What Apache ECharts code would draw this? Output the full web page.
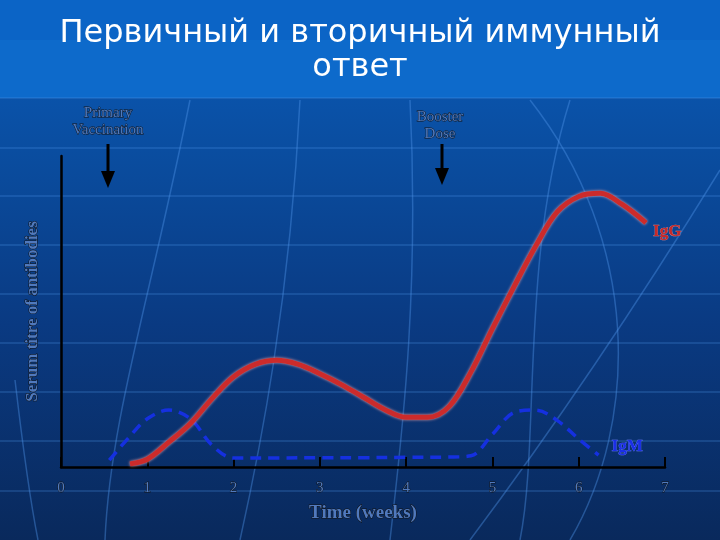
<!DOCTYPE html>
<html><head><meta charset="utf-8">
<script src="https://cdn.jsdelivr.net/npm/echarts@6/dist/echarts.min.js"></script>
<style>html,body{margin:0;padding:0;background:#0a3c88}#c{width:720px;height:540px}</style>
</head><body><div id="c"></div>
<script>
const titleText = 'Первичный и вторичный иммунный\nответ';
const xTicks = [0,1,2,3,4,5,6,7];
const xName = 'Time (weeks)';
const yName = 'Serum titre of antibodies';
const igGWeeks = [0.8,1.0,1.25,1.5,1.75,2.0,2.25,2.5,2.75,3.0,3.25,3.5,3.75,4.0,4.25,4.5,4.75,5.0,5.25,5.5,5.75,6.0,6.25,6.5,6.78];
const igGTitre = [1,2.5,8,14,22,29,33,34.3,33,30,26.5,22.5,18.5,16,16,19.5,30.5,44.5,58,71,82,87,88,84.5,78.5];
const igMWeeks = [0.56,0.79,1.0,1.25,1.5,1.75,2.0,2.5,3.0,3.5,4.0,4.5,4.75,5.0,5.25,5.5,5.75,6.0,6.23];
const igMTitre = [2.2,9.6,15.5,18.3,15.5,7,2.9,2.9,3,3,3.1,3.2,3.6,10.5,17.5,18.3,15,9,3.8];
const seriesNames = ['IgG','IgM'];
const events = ['Primary\nVaccination','Booster\nDose'];

const chart = echarts.init(document.getElementById('c'), null, {renderer:'canvas'});
const hollowFill = '#5079bd', hollowStroke = '#141414';
const hLines = [];
[98,148,196,245,294,343,392,441,491].forEach(y=>hLines.push({type:'line',silent:true,z:-9,shape:{x1:0,y1:y,x2:720,y2:y},style:{stroke:'rgba(80,150,235,0.45)',lineWidth:1}}));
const arcs = [
 {x1:15,y1:380,cpx1:22,cpy1:440,cpx2:30,cpy2:500,x2:38,y2:540},
 {x1:190,y1:100,cpx1:150,cpy1:300,cpx2:110,cpy2:420,x2:105,y2:540},
 {x1:300,y1:100,cpx1:290,cpy1:300,cpx2:260,cpy2:450,x2:240,y2:540},
 {x1:530,y1:100,cpx1:640,cpy1:240,cpx2:640,cpy2:420,x2:570,y2:540},
 {x1:410,y1:100,cpx1:420,cpy1:300,cpx2:400,cpy2:450,x2:390,y2:540},
 {x1:720,y1:170,cpx1:640,cpy1:300,cpx2:560,cpy2:420,x2:470,y2:540},
 {x1:570,y1:100,cpx1:520,cpy1:260,cpx2:540,cpy2:440,x2:520,y2:540}
].map(s=>({type:'bezierCurve',silent:true,z:-9,shape:s,style:{stroke:'rgba(80,150,235,0.4)',lineWidth:1.5,fill:null}}));

function arrow(x, y1, y2){
  return [
    {type:'line',z:10,shape:{x1:x,y1:y1,x2:x,y2:y2-12},style:{stroke:'#000',lineWidth:3}},
    {type:'polygon',z:10,shape:{points:[[x-7,y2-17],[x+7,y2-17],[x,y2]]},style:{fill:'#000'}}
  ];
}
function hollowText(x,y,text){
  return {type:'text',z:20,x:x,y:y,style:{text:text,fill:hollowFill,stroke:hollowStroke,lineWidth:0.9,font:'15px "Liberation Serif"',textAlign:'center',lineHeight:17}};
}

chart.setOption({
  animation:false,
  graphic:[
    {type:'rect',silent:true,z:-10,shape:{x:0,y:0,width:720,height:540},
     style:{fill:new echarts.graphic.LinearGradient(0,0,0,1,[{offset:0,color:'#0a5cba'},{offset:0.3,color:'#0a4c9e'},{offset:0.6,color:'#0a3a82'},{offset:1,color:'#09295c'}])}},
    {type:'rect',silent:true,z:-10,shape:{x:0,y:0,width:720,height:40},style:{fill:'#0b64c6'}},
    {type:'rect',silent:true,z:-10,shape:{x:0,y:40,width:720,height:58},style:{fill:'#0d6acb'}},
    ...hLines, ...arcs,
    {type:'text',z:20,left:'center',top:17,style:{text:titleText,font:'32px "DejaVu Sans"',fill:'#ffffff',textAlign:'center',lineHeight:34,textShadowColor:'#0a0a0a',textShadowOffsetX:2,textShadowOffsetY:2,textShadowBlur:0}},
    hollowText(108,105,events[0]),
    hollowText(440,109,events[1]),
    ...arrow(108,144,188), ...arrow(442,144,185)
  ],
  grid:{left:61,right:55,top:156,bottom:73},
  xAxis:{type:'value',min:0,max:7,interval:1,
    name:xName,nameLocation:'middle',nameGap:37,
    nameTextStyle:{fontSize:19,fontFamily:'Liberation Serif',fontWeight:'bold',color:hollowFill,textBorderColor:hollowStroke,textBorderWidth:1},
    axisLine:{show:true,lineStyle:{color:'#000',width:2.5}},
    axisTick:{show:true,inside:true,length:10,lineStyle:{color:'#000',width:2}},
    axisLabel:{margin:14,fontSize:15,fontFamily:'Liberation Serif',color:hollowFill,textBorderColor:hollowStroke,textBorderWidth:0.9,formatter:v=>xTicks.indexOf(v)>=0?String(v):''},
    splitLine:{show:false}},
  yAxis:{type:'value',min:0,max:100,
    name:yName,nameLocation:'middle',nameGap:20,nameRotate:90,
    nameTextStyle:{fontSize:17,fontFamily:'Liberation Serif',fontWeight:'bold',color:hollowFill,textBorderColor:hollowStroke,textBorderWidth:1},
    axisLine:{show:true,lineStyle:{color:'#000',width:2.5}},
    axisTick:{show:false},axisLabel:{show:false},splitLine:{show:false}},
  series:[
    {name:seriesNames[0],type:'line',smooth:0.35,symbol:'none',clip:false,z:5,
     data:igGWeeks.map((w,i)=>[w,igGTitre[i]]),
     lineStyle:{color:'#cc2b2b',width:5,shadowColor:'rgba(255,170,170,0.9)',shadowBlur:3},
     endLabel:{show:true,formatter:'{a}',distance:3,color:'#c62a2a',fontFamily:'Liberation Serif',fontWeight:'bold',fontSize:17,textBorderColor:'#e88888',textBorderWidth:0.6,offset:[4,9]}},
    {name:seriesNames[1],type:'line',smooth:0.35,symbol:'none',clip:false,z:4,
     data:igMWeeks.map((w,i)=>[w,igMTitre[i]]),
     lineStyle:{color:'#1530e0',width:3.5,type:[11,7]},
     endLabel:{show:true,formatter:'{a}',distance:3,color:'#1a2ee8',fontFamily:'Liberation Serif',fontWeight:'bold',fontSize:17,textBorderColor:'#7080ff',textBorderWidth:0.6,offset:[10,-9]}}
  ]
});
</script></body></html>
